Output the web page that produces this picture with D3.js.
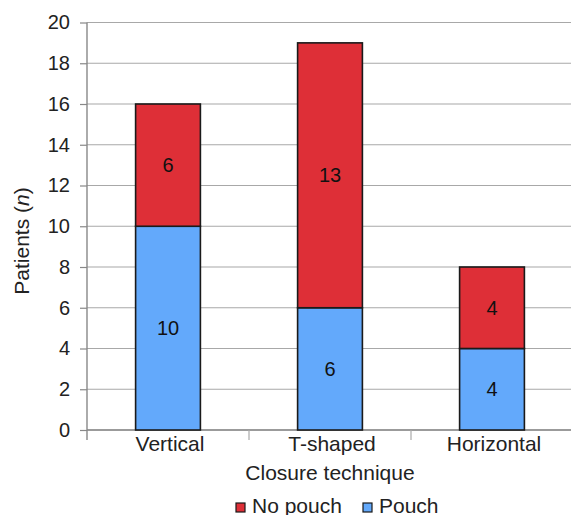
<!DOCTYPE html>
<html>
<head>
<meta charset="utf-8">
<script src="https://cdn.jsdelivr.net/npm/d3@7"></script>
<style>
  html, body { margin: 0; padding: 0; background: #fff; }
  svg { display: block; font-family: "Liberation Sans", Arial, sans-serif; }
</style>
</head>
<body>
<svg id="chart" width="571" height="515"></svg>
<script>
// Closure technique categories and patient counts per outcome
const categories = ["Vertical", "T-shaped", "Horizontal"];
const pouch = [10, 6, 4];
const noPouch = [6, 13, 4];
const yTicks = [0, 2, 4, 6, 8, 10, 12, 14, 16, 18, 20];
const seriesNames = ["No pouch", "Pouch"];

const colors = { "Pouch": "#63a9fb", "No pouch": "#de2f37" };

const svg = d3.select("#chart");
const margin = { left: 87, right: -2, top: 22.5, bottom: 85 };
const W = 571, H = 515;
const FS = 20;   // numbers
const FL = 21;   // words

const x = d3.scaleBand().domain(categories)
  .range([margin.left, W - margin.right]).paddingInner(0).paddingOuter(0);
const y = d3.scaleLinear().domain([0, 20]).range([H - margin.bottom, margin.top]);

// horizontal gridlines
svg.append("g").selectAll("line").data(yTicks).join("line")
  .attr("x1", margin.left).attr("x2", W)
  .attr("y1", d => y(d)).attr("y2", d => y(d))
  .attr("stroke", "#a8a8a8").attr("stroke-width", 1.2);

// y axis
const yAxis = d3.axisLeft(y).tickValues(yTicks).tickSize(7).tickPadding(10);
const gy = svg.append("g").attr("transform", `translate(${margin.left},0)`).call(yAxis);
gy.select(".domain").remove();
gy.selectAll(".tick line").attr("stroke", "#888").attr("stroke-width", 1.2);
gy.selectAll(".tick text").attr("font-size", FS).attr("fill", "#222")
  .attr("font-family", "Liberation Sans, Arial, sans-serif");
svg.append("line")
  .attr("x1", margin.left).attr("x2", margin.left)
  .attr("y1", y(20)).attr("y2", y(0) + 10)
  .attr("stroke", "#888").attr("stroke-width", 1.4);

// x axis baseline and category separators
svg.append("line")
  .attr("x1", margin.left).attr("x2", W)
  .attr("y1", y(0)).attr("y2", y(0))
  .attr("stroke", "#888").attr("stroke-width", 1.4);
const bounds = categories.map(c => x(c)).slice(1);
svg.append("g").selectAll("line").data(bounds).join("line")
  .attr("x1", d => d).attr("x2", d => d)
  .attr("y1", y(0)).attr("y2", y(0) + 10)
  .attr("stroke", "#aaa").attr("stroke-width", 1.2);

// category labels
svg.append("g").selectAll("text").data(categories).join("text")
  .attr("x", d => x(d) + x.bandwidth() / 2 + 2)
  .attr("y", y(0) + 21)
  .attr("text-anchor", "middle").attr("font-size", FL).attr("fill", "#222")
  .text(d => d);

// stacked bars
const rows = categories.map((c, i) => ({ cat: c, "Pouch": pouch[i], "No pouch": noPouch[i] }));
const stack = d3.stack().keys(["Pouch", "No pouch"])(rows);
const barW = x.bandwidth() * 0.4;

stack.forEach(layer => {
  const g = svg.append("g");
  g.selectAll("rect").data(layer).join("rect")
    .attr("x", d => x(d.data.cat) + (x.bandwidth() - barW) / 2)
    .attr("y", d => y(d[1]))
    .attr("width", barW)
    .attr("height", d => y(d[0]) - y(d[1]))
    .attr("fill", colors[layer.key])
    .attr("stroke", "#1a1a1a").attr("stroke-width", 1.6);
  g.selectAll("text").data(layer).join("text")
    .attr("x", d => x(d.data.cat) + x.bandwidth() / 2)
    .attr("y", d => (y(d[0]) + y(d[1])) / 2)
    .attr("dy", "0.35em")
    .attr("text-anchor", "middle").attr("font-size", FS).attr("fill", "#111")
    .text(d => d[1] - d[0]);
});

// axis titles
svg.append("text")
  .attr("transform", `translate(29,241) rotate(-90)`)
  .attr("text-anchor", "middle").attr("font-size", FL).attr("fill", "#222")
  .call(t => {
    t.append("tspan").text("Patients (");
    t.append("tspan").attr("font-style", "italic").text("n");
    t.append("tspan").text(")");
  });

svg.append("text")
  .attr("x", 330).attr("y", 480)
  .attr("text-anchor", "middle").attr("font-size", FL).attr("fill", "#222")
  .text("Closure technique");

// legend
const legendItems = [
  { name: seriesNames[0], x: 236 },
  { name: seriesNames[1], x: 363 }
];
const lg = svg.append("g");
legendItems.forEach(it => {
  lg.append("rect").attr("x", it.x).attr("y", 503).attr("width", 9).attr("height", 9)
    .attr("fill", colors[it.name]).attr("stroke", "#1a1a1a").attr("stroke-width", 1.2);
  lg.append("text").attr("x", it.x + 16).attr("y", 513)
    .attr("font-size", FL).attr("fill", "#222").text(it.name);
});
</script>
</body>
</html>
